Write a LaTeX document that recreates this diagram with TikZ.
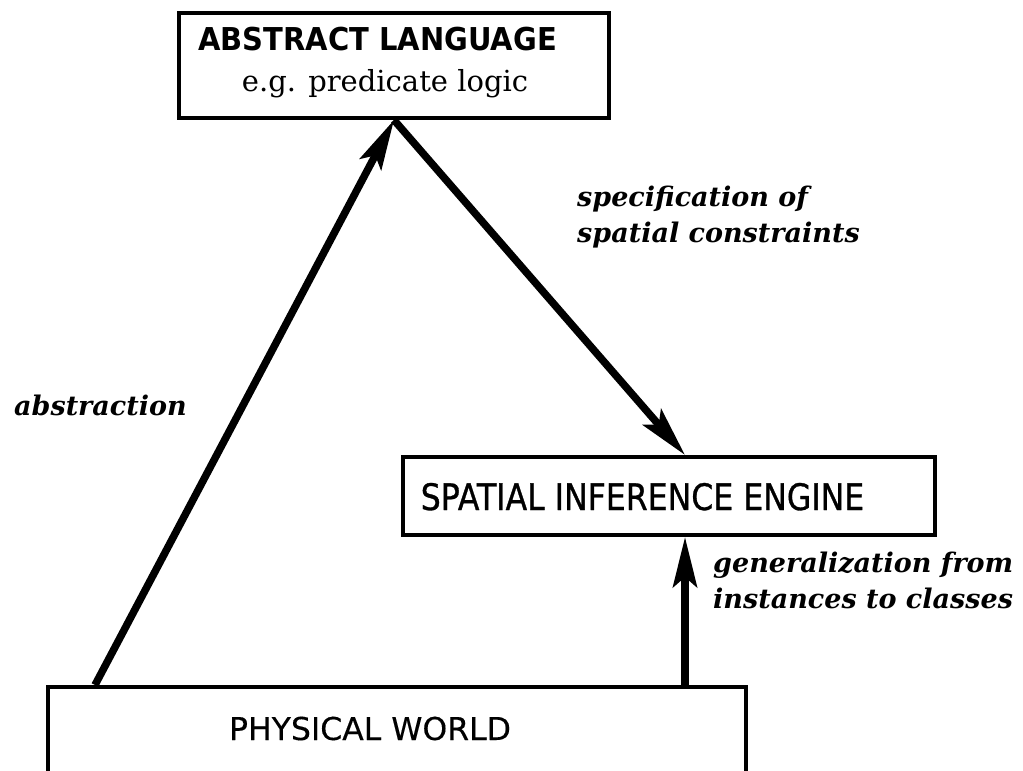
\documentclass[tikz,border=0pt]{standalone}
\usepackage{fontspec}
\setmainfont{DejaVu Serif}
\newfontfamily\headfont[FakeStretch=0.92]{DejaVu Sans Bold}
\newfontfamily\engfont[FakeStretch=0.865,FakeBold=0.8]{DejaVu Sans}
\newfontfamily\worldfont[FakeBold=0.3]{DejaVu Sans}
\usetikzlibrary{arrows.meta,calc}
\tikzset{
  box/.style={draw=black, line width=4pt, rectangle, inner sep=0pt, fill=white},
  conn/.style={line width=7.5pt, -{Stealth[length=50pt,width=24pt,inset=10pt]}},
  lbl/.style={inner sep=0pt, anchor=base west, align=left, font=\fontsize{27}{36}\selectfont\bfseries\itshape},
  txt/.style={inner sep=0pt, anchor=base},
}
\begin{document}
\begin{tikzpicture}[x=1pt,y=-1pt]
\clip (0,0) rectangle (1023,771);
\fill[white] (0,0) rectangle (1023,771);
% boxes
\node[box, minimum width=430pt, minimum height=105pt] (al) at (394,65.5) {};
\node[box, minimum width=532pt, minimum height=78pt] (sie) at (669,496) {};
\node[box, minimum width=698pt, minimum height=113pt] (pw) at (397,743.5) {};
% box texts
\node[txt] (alt) at (377.5,50) {\fontsize{31.5}{31.5}\selectfont\headfont ABSTRACT LANGUAGE};
\node[txt] (als) at (385,91) {\fontsize{29}{29}\selectfont e.g. predicate logic};
\node[txt] (siet) at (642.5,510) {\fontsize{36.5}{36.5}\selectfont\engfont SPATIAL INFERENCE ENGINE};
\node[txt] (pwt) at (370,740) {\fontsize{31.5}{31.5}\selectfont\worldfont PHYSICAL WORLD};
% connectors
\draw[conn] ([xshift=49pt]pw.north west) -- (al.south);
\draw[conn] (al.south) -- ([xshift=284pt]sie.north west);
\draw[conn] ([xshift=639pt]pw.north west) -- ([xshift=284pt]sie.south west);
% labels
\node[lbl] (l1) at (577,242) {specification of\\spatial constraints};
\node[lbl] (l2) at (14,415) {abstraction};
\node[lbl] (l3) at (713,608) {generalization from\\instances to classes};
\end{tikzpicture}
\end{document}
